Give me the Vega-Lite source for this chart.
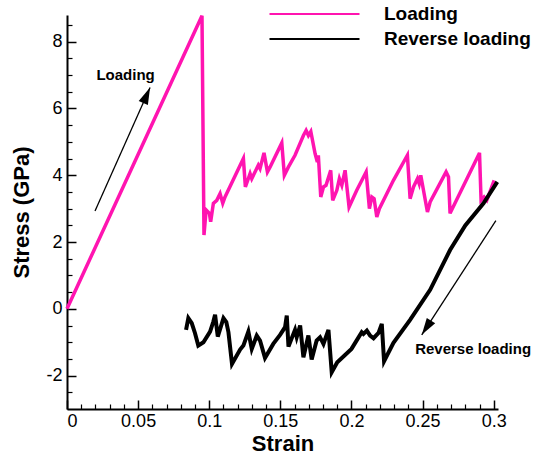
{
  "$schema": "https://vega.github.io/schema/vega-lite/v6.json",
  "width": 431,
  "height": 394,
  "autosize": {"type": "none"},
  "padding": {"left": 67, "top": 15, "right": 37, "bottom": 51},
  "background": "white",
  "config": {
    "view": {"stroke": null},
    "font": "Liberation Sans",
    "axis": {"grid": false, "domainColor": "black", "tickColor": "black", "labelColor": "black", "titleColor": "black", "labelFont": "Liberation Sans", "titleFont": "Liberation Sans"}
  },
  "datasets": {
    "curves": [
      {"strain": 0, "stress": 0, "series": "Loading"},
      {"strain": 0.0949, "stress": 8.78, "series": "Loading"},
      {"strain": 0.0963, "stress": 2.21, "series": "Loading"},
      {"strain": 0.0978, "stress": 2.96, "series": "Loading"},
      {"strain": 0.1001, "stress": 2.86, "series": "Loading"},
      {"strain": 0.1010, "stress": 2.61, "series": "Loading"},
      {"strain": 0.1029, "stress": 3.16, "series": "Loading"},
      {"strain": 0.1053, "stress": 3.25, "series": "Loading"},
      {"strain": 0.1076, "stress": 3.45, "series": "Loading"},
      {"strain": 0.1095, "stress": 3.16, "series": "Loading"},
      {"strain": 0.1111, "stress": 3.35, "series": "Loading"},
      {"strain": 0.1240, "stress": 4.50, "series": "Loading"},
      {"strain": 0.1254, "stress": 3.65, "series": "Loading"},
      {"strain": 0.1287, "stress": 4.05, "series": "Loading"},
      {"strain": 0.1299, "stress": 3.90, "series": "Loading"},
      {"strain": 0.1345, "stress": 4.30, "series": "Loading"},
      {"strain": 0.1357, "stress": 4.20, "series": "Loading"},
      {"strain": 0.1385, "stress": 4.67, "series": "Loading"},
      {"strain": 0.1409, "stress": 4.10, "series": "Loading"},
      {"strain": 0.1428, "stress": 4.25, "series": "Loading"},
      {"strain": 0.1510, "stress": 4.97, "series": "Loading"},
      {"strain": 0.1528, "stress": 4.00, "series": "Loading"},
      {"strain": 0.1557, "stress": 4.25, "series": "Loading"},
      {"strain": 0.1603, "stress": 4.60, "series": "Loading"},
      {"strain": 0.1662, "stress": 5.19, "series": "Loading"},
      {"strain": 0.1681, "stress": 5.34, "series": "Loading"},
      {"strain": 0.1697, "stress": 5.19, "series": "Loading"},
      {"strain": 0.1714, "stress": 5.31, "series": "Loading"},
      {"strain": 0.1744, "stress": 4.65, "series": "Loading"},
      {"strain": 0.1760, "stress": 4.40, "series": "Loading"},
      {"strain": 0.1767, "stress": 4.60, "series": "Loading"},
      {"strain": 0.1784, "stress": 3.35, "series": "Loading"},
      {"strain": 0.1803, "stress": 3.65, "series": "Loading"},
      {"strain": 0.1821, "stress": 3.70, "series": "Loading"},
      {"strain": 0.1854, "stress": 4.15, "series": "Loading"},
      {"strain": 0.1868, "stress": 3.25, "series": "Loading"},
      {"strain": 0.1897, "stress": 3.55, "series": "Loading"},
      {"strain": 0.1915, "stress": 3.90, "series": "Loading"},
      {"strain": 0.1932, "stress": 3.70, "series": "Loading"},
      {"strain": 0.1955, "stress": 4.15, "series": "Loading"},
      {"strain": 0.1983, "stress": 3.05, "series": "Loading"},
      {"strain": 0.2037, "stress": 3.55, "series": "Loading"},
      {"strain": 0.2103, "stress": 4.10, "series": "Loading"},
      {"strain": 0.2126, "stress": 3.00, "series": "Loading"},
      {"strain": 0.2143, "stress": 3.35, "series": "Loading"},
      {"strain": 0.2159, "stress": 3.30, "series": "Loading"},
      {"strain": 0.2178, "stress": 2.75, "series": "Loading"},
      {"strain": 0.2196, "stress": 3.00, "series": "Loading"},
      {"strain": 0.2295, "stress": 3.85, "series": "Loading"},
      {"strain": 0.2393, "stress": 4.60, "series": "Loading"},
      {"strain": 0.2412, "stress": 3.30, "series": "Loading"},
      {"strain": 0.2436, "stress": 3.65, "series": "Loading"},
      {"strain": 0.2464, "stress": 3.90, "series": "Loading"},
      {"strain": 0.2476, "stress": 3.75, "series": "Loading"},
      {"strain": 0.2487, "stress": 4.00, "series": "Loading"},
      {"strain": 0.2534, "stress": 2.90, "series": "Loading"},
      {"strain": 0.2553, "stress": 3.20, "series": "Loading"},
      {"strain": 0.2665, "stress": 4.10, "series": "Loading"},
      {"strain": 0.2682, "stress": 3.95, "series": "Loading"},
      {"strain": 0.2693, "stress": 2.86, "series": "Loading"},
      {"strain": 0.2900, "stress": 4.67, "series": "Loading"},
      {"strain": 0.2911, "stress": 3.25, "series": "Loading"},
      {"strain": 0.2932, "stress": 3.35, "series": "Loading"},
      {"strain": 0.2951, "stress": 3.25, "series": "Loading"},
      {"strain": 0.3003, "stress": 3.85, "series": "Loading"},
      {"strain": 0.0837, "stress": -0.63, "series": "Reverse loading"},
      {"strain": 0.0853, "stress": -0.28, "series": "Reverse loading"},
      {"strain": 0.0877, "stress": -0.43, "series": "Reverse loading"},
      {"strain": 0.0900, "stress": -0.73, "series": "Reverse loading"},
      {"strain": 0.0923, "stress": -1.10, "series": "Reverse loading"},
      {"strain": 0.0959, "stress": -1.00, "series": "Reverse loading"},
      {"strain": 0.1006, "stress": -0.68, "series": "Reverse loading"},
      {"strain": 0.1029, "stress": -0.38, "series": "Reverse loading"},
      {"strain": 0.1041, "stress": -0.18, "series": "Reverse loading"},
      {"strain": 0.1060, "stress": -0.83, "series": "Reverse loading"},
      {"strain": 0.1100, "stress": -0.28, "series": "Reverse loading"},
      {"strain": 0.1120, "stress": -0.40, "series": "Reverse loading"},
      {"strain": 0.1135, "stress": -0.70, "series": "Reverse loading"},
      {"strain": 0.1160, "stress": -1.65, "series": "Reverse loading"},
      {"strain": 0.1217, "stress": -1.22, "series": "Reverse loading"},
      {"strain": 0.1240, "stress": -1.10, "series": "Reverse loading"},
      {"strain": 0.1275, "stress": -0.68, "series": "Reverse loading"},
      {"strain": 0.1299, "stress": -1.20, "series": "Reverse loading"},
      {"strain": 0.1334, "stress": -0.80, "series": "Reverse loading"},
      {"strain": 0.1357, "stress": -0.95, "series": "Reverse loading"},
      {"strain": 0.1392, "stress": -1.47, "series": "Reverse loading"},
      {"strain": 0.1450, "stress": -1.05, "series": "Reverse loading"},
      {"strain": 0.1498, "stress": -0.78, "series": "Reverse loading"},
      {"strain": 0.1533, "stress": -0.55, "series": "Reverse loading"},
      {"strain": 0.1545, "stress": -0.20, "series": "Reverse loading"},
      {"strain": 0.1557, "stress": -1.13, "series": "Reverse loading"},
      {"strain": 0.1603, "stress": -0.63, "series": "Reverse loading"},
      {"strain": 0.1615, "stress": -0.85, "series": "Reverse loading"},
      {"strain": 0.1639, "stress": -0.50, "series": "Reverse loading"},
      {"strain": 0.1662, "stress": -1.45, "series": "Reverse loading"},
      {"strain": 0.1697, "stress": -0.80, "series": "Reverse loading"},
      {"strain": 0.1720, "stress": -1.52, "series": "Reverse loading"},
      {"strain": 0.1755, "stress": -0.95, "series": "Reverse loading"},
      {"strain": 0.1779, "stress": -0.85, "series": "Reverse loading"},
      {"strain": 0.1803, "stress": -1.05, "series": "Reverse loading"},
      {"strain": 0.1838, "stress": -0.63, "series": "Reverse loading"},
      {"strain": 0.1861, "stress": -1.90, "series": "Reverse loading"},
      {"strain": 0.1900, "stress": -1.60, "series": "Reverse loading"},
      {"strain": 0.2000, "stress": -1.20, "series": "Reverse loading"},
      {"strain": 0.2072, "stress": -0.70, "series": "Reverse loading"},
      {"strain": 0.2084, "stress": -0.75, "series": "Reverse loading"},
      {"strain": 0.2108, "stress": -0.65, "series": "Reverse loading"},
      {"strain": 0.2131, "stress": -0.80, "series": "Reverse loading"},
      {"strain": 0.2155, "stress": -0.88, "series": "Reverse loading"},
      {"strain": 0.2190, "stress": -0.72, "series": "Reverse loading"},
      {"strain": 0.2213, "stress": -0.45, "series": "Reverse loading"},
      {"strain": 0.2229, "stress": -1.57, "series": "Reverse loading"},
      {"strain": 0.2295, "stress": -1.02, "series": "Reverse loading"},
      {"strain": 0.2412, "stress": -0.33, "series": "Reverse loading"},
      {"strain": 0.2553, "stress": 0.57, "series": "Reverse loading"},
      {"strain": 0.2693, "stress": 1.76, "series": "Reverse loading"},
      {"strain": 0.2800, "stress": 2.50, "series": "Reverse loading"},
      {"strain": 0.2928, "stress": 3.16, "series": "Reverse loading"},
      {"strain": 0.3025, "stress": 3.80, "series": "Reverse loading"}
    ],
    "arrows": [
      {"name": "load", "x0": 0.0197, "y0": 2.93, "x1": 0.0584, "y1": 6.63},
      {"name": "reverse", "x0": 0.3015, "y0": 2.64, "x1": 0.2494, "y1": -0.78}
    ],
    "notes": [
      {"label": "Loading", "x": 0.0412, "y": 7.0},
      {"label": "Reverse loading", "x": 0.2855, "y": -1.2}
    ]
  },
  "layer": [
    {
      "data": {"name": "curves"},
      "transform": [{"filter": "datum.series === 'Loading'"}],
      "mark": {"type": "line", "strokeWidth": 3.5},
      "encoding": {
        "x": {"field": "strain", "type": "quantitative",
          "scale": {"domain": [0, 0.303], "nice": false, "zero": false},
          "axis": {"orient": "bottom", "values": [0, 0.05, 0.1, 0.15, 0.2, 0.25, 0.3], "labelExpr": "'' + datum.value", "tickSize": -9, "tickWidth": 1.5, "domainWidth": 2, "labelFontSize": 18, "labelPadding": 12, "title": "Strain", "titleFontSize": 22, "titleFontWeight": "bold", "titlePadding": 3}},
        "y": {"field": "stress", "type": "quantitative",
          "scale": {"domain": [-3, 8.8], "nice": false, "zero": false},
          "axis": {"orient": "left", "values": [-2, 0, 2, 4, 6, 8], "labelExpr": "'' + datum.value", "tickSize": -9, "tickWidth": 1.5, "domainWidth": 2, "labelFontSize": 18, "labelPadding": 14, "title": "Stress (GPa)", "titleFontSize": 22, "titleFontWeight": "bold", "titlePadding": 12}},
        "color": {"field": "series", "type": "nominal",
          "scale": {"domain": ["Loading", "Reverse loading"], "range": ["#ff14b0", "#000000"]},
          "legend": {"title": null, "orient": "none", "legendX": 238, "legendY": -10.5, "symbolType": "M-9,0H9", "symbolSize": 100, "symbolStrokeWidth": 2, "labelOffset": 60, "labelFontSize": 19, "labelFontWeight": "bold", "labelColor": "black", "labelFont": "Liberation Sans", "rowPadding": 5, "padding": 0,
            "encode": {"symbols": {"update": {"strokeWidth": {"value": 2}}}}}}
      }
    },
    {
      "data": {"name": "curves"},
      "transform": [{"filter": "datum.series === 'Reverse loading'"}],
      "mark": {"type": "line", "strokeWidth": 4},
      "encoding": {
        "x": {"field": "strain", "type": "quantitative", "axis": null},
        "y": {"field": "stress", "type": "quantitative", "axis": null},
        "color": {"field": "series", "type": "nominal", "scale": {"domain": ["Loading", "Reverse loading"], "range": ["#ff14b0", "#000000"]}}
      }
    },
    {
      "data": {"name": "arrows"},
      "mark": {"type": "rule", "strokeWidth": 1.3, "color": "black"},
      "encoding": {
        "x": {"field": "x0", "type": "quantitative", "axis": null},
        "y": {"field": "y0", "type": "quantitative", "axis": null},
        "x2": {"field": "x1"},
        "y2": {"field": "y1"}
      }
    },
    {
      "data": {"name": "arrows"},
      "transform": [{"filter": "datum.name === 'load'"}],
      "mark": {"type": "point", "shape": "M0,0L1,3.4L-1,3.4Z", "filled": true, "color": "black", "opacity": 1, "size": 100, "angle": 23.5},
      "encoding": {
        "x": {"field": "x1", "type": "quantitative", "axis": null},
        "y": {"field": "y1", "type": "quantitative", "axis": null}
      }
    },
    {
      "data": {"name": "arrows"},
      "transform": [{"filter": "datum.name === 'reverse'"}],
      "mark": {"type": "point", "shape": "M0,0L1,3.4L-1,3.4Z", "filled": true, "color": "black", "opacity": 1, "size": 100, "angle": 212.9},
      "encoding": {
        "x": {"field": "x1", "type": "quantitative", "axis": null},
        "y": {"field": "y1", "type": "quantitative", "axis": null}
      }
    },
    {
      "data": {"name": "notes"},
      "mark": {"type": "text", "fontSize": 15, "fontWeight": "bold", "font": "Liberation Sans", "color": "black"},
      "encoding": {
        "x": {"field": "x", "type": "quantitative",
          "axis": {"orient": "bottom", "values": [0.01, 0.02, 0.03, 0.04, 0.06, 0.07, 0.08, 0.09, 0.11, 0.12, 0.13, 0.14, 0.16, 0.17, 0.18, 0.19, 0.21, 0.22, 0.23, 0.24, 0.26, 0.27, 0.28, 0.29], "labels": false, "domain": false, "tickSize": -5, "tickWidth": 1.2, "title": null}},
        "y": {"field": "y", "type": "quantitative",
          "axis": {"orient": "left", "values": [-2.5, -1.5, -1, -0.5, 0.5, 1, 1.5, 2.5, 3, 3.5, 4.5, 5, 5.5, 6.5, 7, 7.5, 8.5], "labels": false, "domain": false, "tickSize": -5, "tickWidth": 1.2, "title": null}},
        "text": {"field": "label"}
      }
    }
  ],
  "resolve": {"axis": {"x": "independent", "y": "independent"}}
}
